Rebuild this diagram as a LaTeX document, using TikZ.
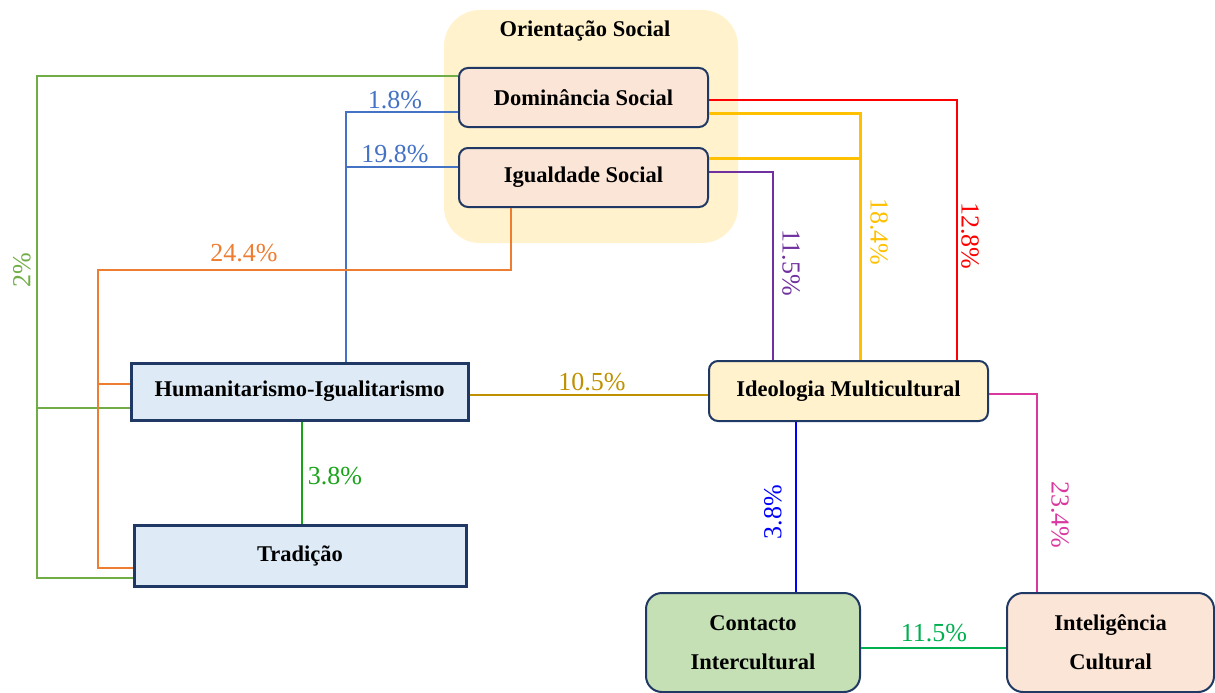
\documentclass[tikz,border=0pt]{standalone}
\usepackage{fontspec}
\setmainfont{Liberation Serif}
\usetikzlibrary{calc}
\definecolor{navy}{HTML}{203864}
\definecolor{grpfill}{HTML}{FFF2CC}
\definecolor{peach}{HTML}{FBE5D6}
\definecolor{lblue}{HTML}{DEEBF7}
\definecolor{lgreen}{HTML}{C5E0B4}
\definecolor{cgreen}{HTML}{70AD47}
\definecolor{cblue}{HTML}{4472C4}
\definecolor{corange}{HTML}{ED7D31}
\definecolor{cred}{HTML}{FF0000}
\definecolor{cyellow}{HTML}{FFC000}
\definecolor{cpurple}{HTML}{7030A0}
\definecolor{cgold}{HTML}{BF9000}
\definecolor{cgreen2}{HTML}{1AA31A}
\definecolor{cblue2}{HTML}{0000FF}
\definecolor{cmagenta}{HTML}{D9389F}
\definecolor{cgreen3}{HTML}{00B050}
\tikzset{
  x=1pt, y=-1pt,
  txt/.style={font=\fontsize{22.5}{39}\selectfont\bfseries, align=center, inner sep=0pt},
  rbox/.style={txt, draw=navy, line width=2pt, rounded corners=9pt},
  sbox/.style={txt, draw=navy, line width=3pt, fill=lblue},
  conn/.style={line width=2pt},
  pct/.style={font=\fontsize{26}{26}\selectfont, inner sep=0pt},
}
\begin{document}
\begin{tikzpicture}
\useasboundingbox (0,0) rectangle (1215,693);
% group background
\fill[grpfill, rounded corners=36pt] (444,10) rectangle (738,243);
\node[txt] (title) at (585,31) {Orientação Social};

% nodes
\node[rbox, fill=peach, minimum width=249pt, minimum height=59pt] (Dom) at (583.5,97.5) {Dominância Social};
\node[rbox, fill=peach, minimum width=249pt, minimum height=59pt] (Igu) at (583.5,177.5) {Igualdade Social};
\node[sbox, minimum width=337pt, minimum height=57pt] (Hum) at (299.5,391.5) {Humanitarismo-Igualitarismo};
\node[sbox, minimum width=332pt, minimum height=61pt] (Tra) at (300,555.5) {Tradição};
\node[rbox, fill=grpfill, minimum width=279pt, minimum height=60pt] (Ideo) at (848.5,391) {Ideologia Multicultural};
\node[rbox, fill=lgreen, rounded corners=16pt, minimum width=214pt, minimum height=99pt] (Con) at (753,642.5) {Contacto\\Intercultural};
\node[rbox, fill=peach, rounded corners=16pt, minimum width=207pt, minimum height=99pt] (Int) at (1110.5,642.5) {Inteligência\\Cultural};

% green 2%
\coordinate (g1) at (37,76);
\draw[conn, cgreen] (Dom.west |- g1) -- (g1) -- (37,578) -- (Tra.west |- 0,578);
\draw[conn, cgreen] (37,408) -- (Hum.west |- 0,408);
\node[pct, cgreen, rotate=90] (l2) at (22,270) {2\%};

% blue 1.8 / 19.8
\coordinate (b1) at (346,112);
\draw[conn, cblue] (Hum.north -| b1) -- (b1) -- (Dom.west |- b1);
\draw[conn, cblue] (346,167) -- (Igu.west |- 0,167);
\node[pct, cblue] (l18) at (395,100) {1.8\%};
\node[pct, cblue] (l198) at (395,154) {19.8\%};

% orange 24.4
\coordinate (o1) at (511,270);
\draw[conn, corange] (Igu.south -| o1) -- (o1) -- (98,270) -- (98,568) -- (Tra.west |- 0,568);
\draw[conn, corange] (98,384) -- (Hum.west |- 0,384);
\node[pct, corange] (l244) at (244,253) {24.4\%};

% red 12.8
\coordinate (r1) at (957,100);
\draw[conn, cred] (Dom.east |- r1) -- (r1) -- (Ideo.north -| r1);
\node[pct, cred, rotate=-90] (l128) at (970,236) {12.8\%};

% yellow 18.4
\coordinate (y1) at (860,113);
\draw[line width=3pt, cyellow] (Dom.east |- y1) -- (y1) -- (Ideo.north -| y1);
\draw[line width=3pt, cyellow] (Igu.east |- 0,158) -- (860,158);
\node[pct, cyellow, rotate=-90] (l184) at (879,232) {18.4\%};

% purple 11.5
\coordinate (p1) at (773,172);
\draw[conn, cpurple] (Igu.east |- p1) -- (p1) -- (Ideo.north -| p1);
\node[pct, cpurple, rotate=-90] (l115a) at (791,263) {11.5\%};

% gold 10.5
\draw[conn, cgold] (Hum.east |- 0,395) -- (Ideo.west |- 0,395);
\node[pct, cgold] (l105) at (592,382) {10.5\%};

% green 3.8
\draw[conn, cgreen2] (Hum.south -| 302,0) -- (Tra.north -| 302,0);
\node[pct, cgreen2] (l38a) at (335,476) {3.8\%};

% blue 3.8
\draw[conn, cblue2] (Ideo.south -| 796,0) -- (Con.north -| 796,0);
\node[pct, cblue2, rotate=90] (l38b) at (773,512) {3.8\%};

% magenta 23.4
\coordinate (m1) at (1037,394);
\draw[conn, cmagenta] (Ideo.east |- m1) -- (m1) -- (Int.north -| m1);
\node[pct, cmagenta, rotate=-90] (l234) at (1060,515) {23.4\%};

% green 11.5
\draw[conn, cgreen3] (Con.east |- 0,648) -- (Int.west |- 0,648);
\node[pct, cgreen3] (l115b) at (934,633) {11.5\%};
\end{tikzpicture}
\end{document}
